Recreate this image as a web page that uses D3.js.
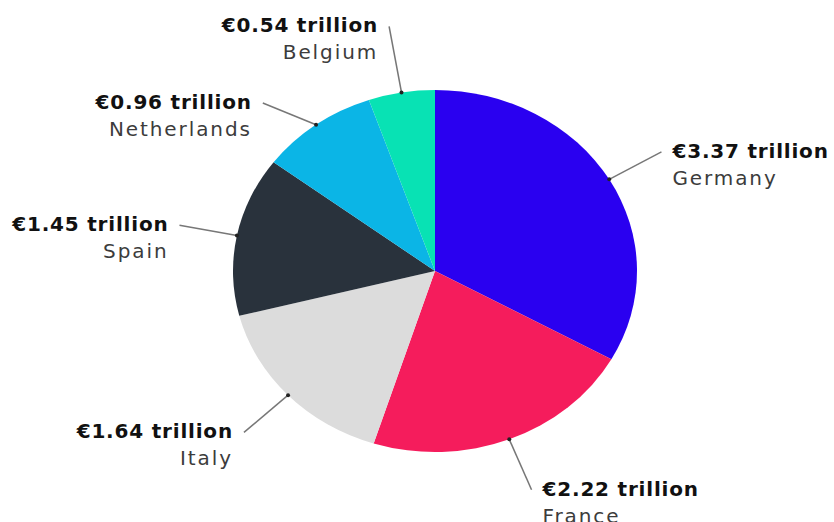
<!DOCTYPE html>
<html>
<head>
<meta charset="utf-8">
<script src="https://cdn.jsdelivr.net/npm/d3@7"></script>
<style>
  body { margin: 0; background: #fff; }
  svg text { font-family: "DejaVu Sans", sans-serif; }
</style>
</head>
<body>
<div id="chart"></div>
<script>
// country values, clockwise from 12 o'clock
var countries = ["Germany", "France", "Italy", "Spain", "Netherlands", "Belgium"];
var values = [3.37, 2.22, 1.64, 1.45, 0.96, 0.54];
var valueLabels = ["€3.37 trillion", "€2.22 trillion", "€1.64 trillion", "€1.45 trillion", "€0.96 trillion", "€0.54 trillion"];
var colors = ["#2a00f0", "#f51c5c", "#dcdcdc", "#29323c", "#0bb5e6", "#08e2b4"];

// leader line tweaks (length in radii, turn in degrees)
var leaderLen = [1.3, 1.3, 1.3, 1.29, 1.26, 1.37];
var leaderTurn = [0, 0, 0, 0, -6.5, 0];

var width = 834, height = 522;
var cx = 435, cy = 271;
var ry = 181, rx = 202;   // pie is a bit stretched horizontally

var svg = d3.select("#chart").append("svg")
    .attr("width", width)
    .attr("height", height);

var pie = d3.pie().sort(null).value(function(d){ return d; });
var arcs = pie(values);

var arc = d3.arc().innerRadius(0).outerRadius(ry);

var g = svg.append("g")
    .attr("transform", "translate(" + cx + "," + cy + ") scale(" + (rx / ry) + ",1)");

g.selectAll("path")
    .data(arcs)
    .enter()
    .append("path")
    .attr("d", arc)
    .attr("fill", function(d, i){ return colors[i]; });

// point on the (stretched) pie at angle a, k times the radius
function pt(a, k){
    return [cx + Math.sin(a) * rx * k, cy - Math.cos(a) * ry * k];
}

var lab = svg.append("g");
arcs.forEach(function(d, i){
    var mid = (d.startAngle + d.endAngle) / 2;
    var p0 = pt(mid, 1);
    var p1 = pt(mid + leaderTurn[i] * Math.PI / 180, leaderLen[i]);
    var right = Math.sin(mid) > 0;

    lab.append("line")
        .attr("x1", p0[0]).attr("y1", p0[1])
        .attr("x2", p1[0]).attr("y2", p1[1])
        .attr("stroke", "#777")
        .attr("stroke-width", 1.5);
    lab.append("circle")
        .attr("cx", p0[0]).attr("cy", p0[1])
        .attr("r", 2)
        .attr("fill", "#222");

    var tx = right ? p1[0] + 11 : p1[0] - 11;
    var anchor = right ? "start" : "end";
    lab.append("text")
        .attr("x", tx).attr("y", p1[1] + 6)
        .attr("text-anchor", anchor)
        .attr("font-size", 20)
        .attr("font-weight", 700)
        .attr("letter-spacing", 0.8)
        .attr("fill", "#111")
        .text(valueLabels[i]);
    lab.append("text")
        .attr("x", tx).attr("y", p1[1] + 33)
        .attr("text-anchor", anchor)
        .attr("font-size", 20)
        .attr("font-weight", 400)
        .attr("letter-spacing", 1.9)
        .attr("fill", "#3c3c3c")
        .text(countries[i]);
});
</script>
</body>
</html>
